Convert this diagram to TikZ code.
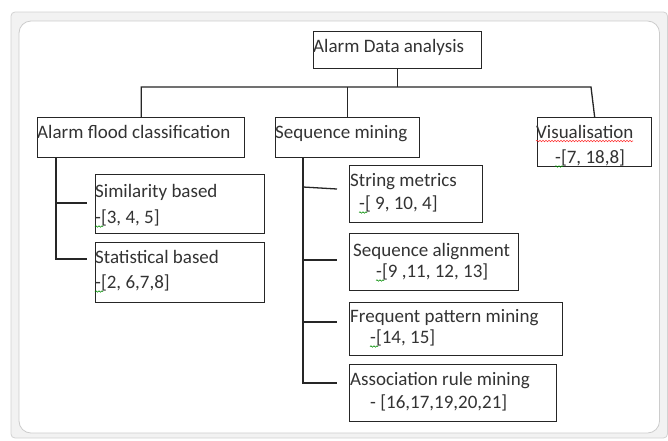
\documentclass[tikz,border=0pt]{standalone}
\usepackage{fontspec}
\setmainfont{Carlito}
\usetikzlibrary{decorations.pathmorphing}
\begin{document}
\begin{tikzpicture}[x=1pt,y=-1pt,
  box/.style={draw=black!85,line width=1.3pt,rectangle,inner sep=0pt,anchor=north west},
  txt/.style={inner sep=0pt,anchor=base west,text=black!80,font=\fontsize{19}{23}\selectfont},
  link/.style={draw=black!85,line width=1.3pt},
  squig/.style={decorate,decoration={snake,amplitude=0.7pt,segment length=3pt},line width=0.6pt}]
\useasboundingbox (0,0) rectangle (668,440);
% canvas frame
\draw[fill=gray!10,draw=gray!35,line width=0.8pt,rounded corners=4pt] (11,12) rectangle (667.5,438);
\draw[fill=white,draw=gray!40,line width=0.8pt,rounded corners=12pt] (19,21) rectangle (659.5,433);
% boxes
\node[box,minimum width=168pt,minimum height=37pt] (root) at (313,31) {};
\node[box,minimum width=207pt,minimum height=40pt] (alarm) at (37,117) {};
\node[box,minimum width=144pt,minimum height=40pt] (seq) at (275,117) {};
\node[box,minimum width=114pt,minimum height=49pt] (vis) at (537,117) {};
\node[box,minimum width=169pt,minimum height=59pt] (sim) at (95,174) {};
\node[box,minimum width=169pt,minimum height=60pt] (stat) at (95,242) {};
\node[box,minimum width=133pt,minimum height=57pt] (str) at (349,165) {};
\node[box,minimum width=169pt,minimum height=57pt] (ali) at (349,233) {};
\node[box,minimum width=213pt,minimum height=53pt] (freq) at (349,302) {};
\node[box,minimum width=207pt,minimum height=57pt] (assoc) at (349,364) {};
% texts
\node[txt] (rootT) at (313,52) {Alarm Data analysis};
\node[txt] (alarmT) at (37,138) {Alarm flood classification};
\node[txt] (seqT) at (275,138) {Sequence mining};
\node[txt] (visT) at (536,138) {Visualisation};
\node[txt] (visR) at (555,163) {-[7, 18,8]};
\node[txt] (simT) at (95,197) {Similarity based};
\node[txt] (simR) at (95,223) {-[3, 4, 5]};
\node[txt] (statT) at (95,263) {Statistical based};
\node[txt] (statR) at (95,288) {-[2, 6,7,8]};
\node[txt] (strT) at (350,186) {String metrics};
\node[txt] (strR) at (359,209) {-[ 9, 10, 4]};
\node[txt] (aliT) at (353,256) {Sequence alignment};
\node[txt] (aliR) at (376,277) {-[9 ,11, 12, 13]};
\node[txt] (freqT) at (350,322) {Frequent pattern mining};
\node[txt] (freqR) at (370,343) {-[14, 15]};
\node[txt] (assocT) at (350,385) {Association rule mining};
\node[txt] (assocR) at (370,408) {- [16,17,19,20,21]};
% spell-check marks
\draw[squig,red!80] (visT.base west)++(0,3) -- ++(97,0);
\foreach \n in {visR,simR,statR,strR,aliR,freqR}
  \draw[squig,green!55!black] (\n.base west)++(0,3.5) -- ++(8,0);
% top connectors
\coordinate (busW) at (alarm.north |- 0,87);
\coordinate (busE) at (591,87);
\draw[link] (root.south) -- (root.south |- busW);
\draw[link] (alarm.north) -- (busW) -- (busE) -- (vis.north);
\draw[link] (seq.north) -- (seq.north |- busW);
% left subtree
\coordinate (lv) at (56,157);
\coordinate (lb1) at (87,203);
\coordinate (lb2) at (87,259);
\draw[link] (lv) -- (lv |- lb2) -- (lb2);
\draw[link] (lv |- lb1) -- (lb1);
% sequence subtree
\coordinate (sv) at (303,157);
\coordinate (sb1) at (337,189);
\coordinate (sb2) at (337,260);
\coordinate (sb3) at (337,322);
\coordinate (sb4) at (337,383);
\draw[link] (sv) -- (sv |- sb4) -- (sb4);
\draw[link] (303,187) -- (sb1);
\draw[link] (sv |- sb2) -- (sb2);
\draw[link] (sv |- sb3) -- (sb3);
\end{tikzpicture}
\end{document}
